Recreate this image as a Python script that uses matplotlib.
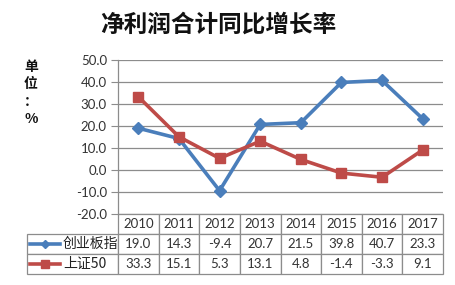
import numpy as np
import matplotlib
matplotlib.use('Agg')
import matplotlib.pyplot as plt

# data
years = ['2010', '2011', '2012', '2013', '2014', '2015', '2016', '2017']
cyb = [19.0, 14.3, -9.4, 20.7, 21.5, 39.8, 40.7, 23.3]
sz50 = [33.3, 15.1, 5.3, 13.1, 4.8, -1.4, -3.3, 9.1]
series_names = ['创业板指', '上证50']
title = '净利润合计同比增长率'
unit_label = '单\n位\n：\n%'

BLUE = '#4A7EBB'
RED = '#BE4B48'
GRID = '#8c8c8c'
CJK = ['Noto Sans CJK SC', 'DejaVu Sans']
NUM = ['Lato', 'Noto Sans CJK SC']

W, H = 456, 285
fig = plt.figure(figsize=(W / 100, H / 100), dpi=100)

# plot area in pixels
px_left, px_right, px_top, px_bottom = 118, 443, 60, 214
ax = fig.add_axes([px_left / W, (H - px_bottom) / H,
                   (px_right - px_left) / W, (px_bottom - px_top) / H])

x = np.arange(len(years))
ax.plot(x, cyb, color=BLUE, lw=2.6, marker='D', ms=6.5, zorder=3)
ax.plot(x, sz50, color=RED, lw=2.6, marker='s', ms=7.5, zorder=3)

ax.set_xlim(-0.5, len(years) - 0.5)
ax.set_ylim(-20, 50)
yt = np.arange(-20, 51, 10)
ax.set_yticks(yt)
ax.set_yticklabels([f'{v:.1f}' for v in yt], family=NUM, fontsize=9.5, color='#333333')
ax.set_xticks([])
ax.tick_params(axis='y', direction='out', length=5, color=GRID, pad=3)
ax.yaxis.grid(True, color=GRID, lw=0.9)
ax.set_axisbelow(True)
for s in ['top', 'right', 'bottom']:
    ax.spines[s].set_visible(False)
ax.spines['left'].set_color(GRID)
ax.spines['left'].set_linewidth(0.9)

# data table under the plot
ax_w = px_right - px_left
ax_h = px_bottom - px_top
tbl_left, tbl_bottom = 27, 274
first_col = px_left - tbl_left
col_w = ax_w / len(years)
tbl_w = px_right - tbl_left
rows = [[''] + years,
        [''] + [f'{v:.1f}' for v in cyb],
        [''] + [f'{v:.1f}' for v in sz50]]
tbl = ax.table(cellText=rows,
               colWidths=[first_col / tbl_w] + [col_w / tbl_w] * len(years),
               cellLoc='center',
               bbox=[(tbl_left - px_left) / ax_w, -(tbl_bottom - px_bottom) / ax_h,
                     tbl_w / ax_w, (tbl_bottom - px_bottom) / ax_h])
tbl.auto_set_font_size(False)
tbl.set_fontsize(9.5)
for (r, c), cell in tbl.get_celld().items():
    cell.set_edgecolor(GRID)
    cell.set_linewidth(0.9)
    cell.get_text().set_family(NUM)
    cell.get_text().set_color('#333333')
tbl[0, 0].visible_edges = ''

# row labels with legend keys
row_h = (tbl_bottom - px_bottom) / 3
for i, (name, col, mk, ms) in enumerate(zip(series_names, [BLUE, RED], ['D', 's'], [4.5, 6])):
    yc = -((i + 1.5) * row_h) / ax_h
    x0 = (tbl_left + 3 - px_left) / ax_w
    x1 = (tbl_left + 33 - px_left) / ax_w
    ax.plot([x0, x1], [yc, yc], color=col, lw=2.6, transform=ax.transAxes, clip_on=False)
    ax.plot([(x0 + x1) / 2], [yc], color=col, marker=mk, ms=ms,
            transform=ax.transAxes, clip_on=False)
    ax.text((tbl_left + 36 - px_left) / ax_w, yc, name, transform=ax.transAxes,
            ha='left', va='center', fontsize=10, family=CJK, color='#222222')

fig.text(218 / W, 1 - 25 / H, title, ha='center', va='center',
         fontsize=17, weight='bold', family=CJK, color='#111111')
fig.text(31 / W, 1 - 60 / H, unit_label, ha='center', va='top',
         fontsize=10, weight='bold', family=CJK, linespacing=1.3, color='#111111')

fig.savefig('out.png', dpi=100)
